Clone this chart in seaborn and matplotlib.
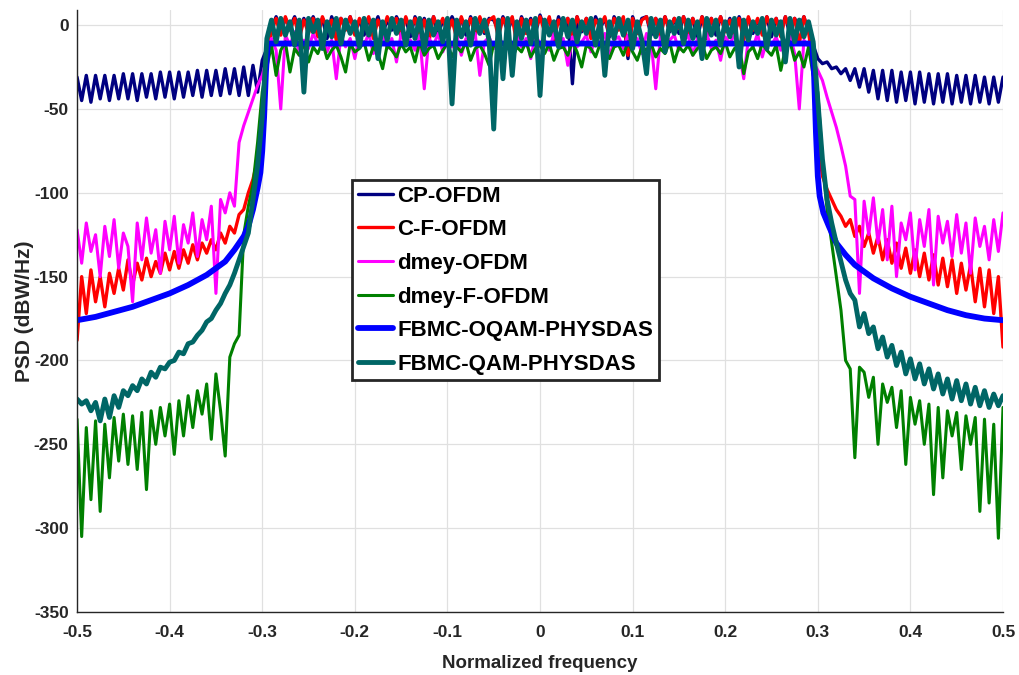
import numpy as np
import matplotlib
matplotlib.use('Agg')
import matplotlib.pyplot as plt
import seaborn as sns

# ---- data ----
# shared frequency grid of the noisy curves: -0.5 .. 0.5, step 0.005 (201 samples)
freq = np.round(np.linspace(-0.5, 0.5, 201), 3)

# CP-OFDM
cp_left = [-31, -45, -30, -46, -30, -44, -30, -45, -30, -44,
           -29, -44, -29, -45, -29, -43, -29, -44, -28, -43,
           -28, -44, -28, -43, -28, -42, -27, -43, -27, -42,
           -27, -42, -26, -41, -26, -42, -25, -42, -24, -40,
           -21]
cp_band = [-14, -2, 5, -5, 4, -1, 5, -4, 4, -3,
           5, -2, 4, -8, 5, -3, 4, -1, 5, -4,
           3, -6, 4, -2, 5, -5, 3, -3, 5, -1,
           4, -7, 5, -2, 4, -4, 5, -6, 3, -2,
           5, -1, 4, -6, 5, -2, 4, -5, 4, 3,
           -3, 5, -4, 4, -6, 5, -2, 4, -5, 6,
           -2, 4, -7, 5, -3, 4, -35, 5, -4, 4,
           -5, 5, -2, 4, -7, 5, -1, 4, -20, 5,
           -3, 4, 5, -6, 4, -2, 5, -4, 4, -5,
           5, -3, 4, -8, 5, -2, 4, -6, 5, -3,
           4, -6, 5, -2, 4, -5, 3, -4, 5, -7,
           4, -3, 5, -6, 4, -2, 5, -4, -12]
cp_right = [-20, -23, -22, -26, -25, -29, -26, -33, -26, -37,
            -26, -40, -27, -44, -27, -45, -27, -46, -28, -45,
            -28, -47, -28, -46, -29, -47, -29, -46, -29, -47,
            -30, -46, -30, -47, -30, -46, -31, -47, -31, -46,
            -31]

# C-F-OFDM
cf_left = [-188, -150, -172, -146, -165, -150, -168, -148, -160, -145,
           -158, -140, -155, -142, -152, -139, -150, -141, -148, -136,
           -146, -135, -145, -134, -142, -131, -140, -130, -136, -128,
           -134, -124, -130, -120, -124, -113, -110, -100, -92, -80,
           -62]
cf_band = [-20, -4, 4, -6, 5, -3, 4, -8, 3, -5,
           4, -7, 5, -2, 3, -9, 4, -3, 5, -6,
           4, -2, 5, -8, 3, -4, 5, -1, 4, -7,
           5, -3, 4, -6, 3, -10, 5, -2, 4, -5,
           3, -8, 5, -3, 4, -6, 5, -4, 3, 5,
           -7, 4, -2, 5, -12, 4, -5, 3, -3, 5,
           -4, 5, -9, 3, -2, 4, -6, 5, -3, 4,
           -8, 3, -1, 5, -6, 4, -3, 5, -18, 4,
           -5, 3, 5, -4, 4, -7, 5, -3, 4, -2,
           5, -6, 4, -3, 5, -8, 4, -2, 5, -4,
           3, -5, 4, -9, 5, -3, 4, -6, 5, -2,
           4, -7, 5, -3, 4, -11, 5, -4, -25]
cf_right = [-70, -90, -98, -104, -110, -114, -120, -116, -126, -120,
            -132, -124, -136, -126, -140, -128, -142, -130, -145, -133,
            -148, -134, -150, -136, -152, -137, -155, -139, -156, -140,
            -160, -142, -158, -143, -165, -145, -168, -146, -172, -150,
            -192]

# dmey-OFDM
dm_left = [-122, -142, -118, -135, -125, -150, -120, -138, -116, -145,
           -124, -132, -165, -118, -140, -115, -136, -122, -148, -117,
           -134, -114, -142, -119, -130, -112, -138, -116, -128, -108,
           -160, -104, -112, -100, -108, -70, -60, -52, -44, -36,
           -30]
dm_band = [-20, -8, -15, -50, -6, -12, -4, -18, -9, -14,
           -5, -11, -7, -16, -9, -32, -6, -13, -8, -20,
           -7, -12, -5, -17, -10, -6, -14, -8, -22, -5,
           -11, -9, -15, -6, -38, -8, -12, -5, -16, -9,
           -13, -6, -18, -8, -11, -5, -30, -10, -7, -14,
           -6, -12, -9, -17, -5, -13, -8, -20, -6, -11,
           -9, -15, -5, -12, -8, -24, -7, -13, -10, -6,
           -16, -8, -11, -5, -19, -9, -7, -14, -6, -12,
           -8, -17, -5, -10, -38, -7, -13, -9, -6, -15,
           -10, -6, -18, -8, -12, -5, -14, -9, -21, -7,
           -11, -6, -16, -32, -8, -13, -5, -19, -9, -12,
           -7, -15, -10, -6, -17, -50, -9, -13, -22]
dm_right = [-27, -33, -43, -52, -61, -72, -84, -102, -104, -160,
            -105, -125, -103, -130, -110, -140, -108, -150, -118, -128,
            -112, -146, -116, -132, -110, -155, -114, -130, -117, -138,
            -113, -136, -118, -148, -115, -132, -120, -140, -116, -135,
            -112]

# dmey-F-OFDM
df_left = [-235, -305, -240, -283, -236, -290, -238, -270, -234, -260,
           -232, -262, -233, -265, -231, -277, -230, -250, -228, -245,
           -226, -256, -224, -245, -221, -240, -218, -232, -214, -247,
           -208, -230, -257, -198, -190, -185, -125, -108, -95, -70,
           -40]
df_band = [-25, -12, -30, -15, -10, -28, -14, -18, -11, -22,
           -13, -17, -10, -20, -15, -12, -19, -28, -11, -16,
           -14, -10, -21, -13, -17, -26, -12, -15, -19, -11,
           -16, -13, -22, -10, -18, -14, -12, -20, -15, -11,
           -19, -13, -16, -10, -21, -14, -12, -17, -24, -11,
           -15, -18, -12, -20, -13, -16, -10, -19, -14, -12,
           -17, -11, -21, -14, -13, -18, -10, -16, -25, -12,
           -14, -19, -11, -15, -20, -13, -12, -18, -10, -16,
           -21, -13, -15, -11, -19, -14, -17, -10, -22, -13,
           -16, -12, -18, -14, -11, -20, -15, -13, -17, -10,
           -19, -14, -12, -29, -16, -13, -20, -11, -15, -18,
           -12, -27, -14, -10, -21, -16, -25, -13, -30]
df_right = [-40, -80, -110, -130, -150, -170, -200, -205, -258, -204,
            -207, -222, -210, -250, -214, -225, -216, -240, -218, -262,
            -222, -238, -224, -250, -226, -280, -228, -270, -230, -245,
            -231, -265, -233, -250, -234, -290, -235, -285, -238, -306,
            -228]

# FBMC-QAM-PHYSDAS
fq_left = [-223, -226, -224, -230, -225, -236, -223, -234, -221, -228,
           -218, -221, -215, -218, -211, -214, -207, -210, -204, -205,
           -201, -200, -195, -196, -190, -189, -185, -182, -177, -175,
           -170, -166, -160, -155, -148, -140, -132, -124, -104, -84,
           -55]
fq_band = [-8, 3, -10, 4, -6, 2, -12, 3, -40, 4,
           -4, 3, -14, 2, -7, 4, -11, 3, -5, 2,
           -13, 4, -6, 3, -20, 2, -9, 4, -5, 3,
           -12, 2, -8, 4, -15, 3, -6, 2, -10, 4,
           -47, 3, -7, 2, -12, 4, -5, 3, -9, -62,
           3, -32, 4, -30, 2, -8, 3, -11, 4, -42,
           3, -6, 2, -13, 4, -7, 3, -10, 2, -5,
           4, -12, 3, -30, 2, -8, 4, -6, 3, -14,
           2, -9, -29, 4, -7, 3, -16, 2, -5, 4,
           -11, 3, -8, 2, -20, 4, -6, 3, -12, 2,
           -7, 4, -25, 3, -9, 2, -5, 4, -14, 3,
           -6, 2, -22, 4, -10, 3, -7, 2, -10]
fq_right = [-45, -80, -104, -118, -130, -141, -152, -160, -164, -180,
            -172, -184, -180, -193, -186, -198, -191, -203, -195, -208,
            -199, -211, -202, -214, -205, -217, -208, -220, -211, -223,
            -212, -224, -214, -226, -216, -227, -218, -228, -220, -227,
            -221]

# FBMC-OQAM-PHYSDAS (smooth curve, own sample points)
oq_freq = [-0.5, -0.48, -0.46, -0.44, -0.42, -0.4, -0.38, -0.36, -0.35, -0.34,
           -0.33, -0.32, -0.315, -0.31, -0.305, -0.302, -0.3, -0.298, -0.296, -0.294,
           0.294, 0.296, 0.298, 0.3, 0.302, 0.306, 0.312, 0.32, 0.33, 0.34,
           0.35, 0.36, 0.38, 0.4, 0.42, 0.44, 0.46, 0.48, 0.5]
oq_psd = [-176, -174, -171, -168, -164, -160, -155, -149, -145, -141,
          -134, -126, -120, -110, -97, -88, -75, -55, -28, -11,
          -11, -30, -64, -90, -102, -112, -120, -130, -137, -143,
          -147, -151, -157, -162, -166, -170, -173, -175, -176]

labels = ['CP-OFDM', 'C-F-OFDM', 'dmey-OFDM', 'dmey-F-OFDM',
          'FBMC-OQAM-PHYSDAS', 'FBMC-QAM-PHYSDAS']
colors = ['#000080', '#ff0000', '#ff00ff', '#008000', '#0000ff', '#006666']
widths = [2.4, 2.4, 2.2, 2.2, 4.2, 3.5]

xticks = [-0.5, -0.4, -0.3, -0.2, -0.1, 0, 0.1, 0.2, 0.3, 0.4, 0.5]
xtick_labels = ['-0.5', '-0.4', '-0.3', '-0.2', '-0.1', '0', '0.1', '0.2', '0.3', '0.4', '0.5']
yticks = [-350, -300, -250, -200, -150, -100, -50, 0]

curves = [
    (freq, cp_left + cp_band + cp_right),
    (freq, cf_left + cf_band + cf_right),
    (freq, dm_left + dm_band + dm_right),
    (freq, df_left + df_band + df_right),
    (oq_freq, oq_psd),
    (freq, fq_left + fq_band + fq_right),
]

# ---- plot ----
sns.set_theme(style='whitegrid')
plt.rcParams['font.family'] = ['Liberation Sans', 'DejaVu Sans']
plt.rcParams['font.weight'] = 'bold'
plt.rcParams['axes.unicode_minus'] = False

fig = plt.figure(figsize=(10.19, 6.75), dpi=100)
ax = fig.add_axes([0.0756, 0.0933, 0.9087, 0.8919])

for (x, y), name, c, lw in zip(curves, labels, colors, widths):
    sns.lineplot(x=x, y=y, ax=ax, color=c, linewidth=lw, label=name,
                 estimator=None, sort=False)

ax.set_xlim(-0.5, 0.5)
ax.set_ylim(-350, 9)
ax.set_xticks(xticks)
ax.set_xticklabels(xtick_labels)
ax.set_yticks(yticks)
ax.tick_params(axis='both', direction='in', length=8, width=1, color='#262626',
               labelsize=12.5, labelcolor='#262626', pad=6)
ax.tick_params(axis='x', pad=9)
ax.grid(True, color='#e0e0e0', linewidth=0.9)
ax.set_axisbelow(True)
for side in ['top', 'right']:
    ax.spines[side].set_visible(False)
for side in ['left', 'bottom']:
    ax.spines[side].set_color('#262626')
    ax.spines[side].set_linewidth(1.0)

ax.set_xlabel('Normalized frequency', fontsize=13.5, fontweight='bold', color='#262626', labelpad=11)
ax.set_ylabel('PSD (dBW/Hz)', fontsize=15, fontweight='bold', color='#262626', labelpad=0)

leg = ax.legend(loc='upper left', bbox_to_anchor=(0.3454, 0.7333), bbox_transform=fig.transFigure,
                fontsize=16, frameon=True, fancybox=False, framealpha=1, edgecolor='#262626',
                borderpad=0.25, labelspacing=0.57, handlelength=1.6, handletextpad=0.2,
                borderaxespad=0)
leg.get_frame().set_linewidth(2)
for t in leg.get_texts():
    t.set_fontweight('bold')
    t.set_color('black')

fig.savefig('out.png', dpi=100)
